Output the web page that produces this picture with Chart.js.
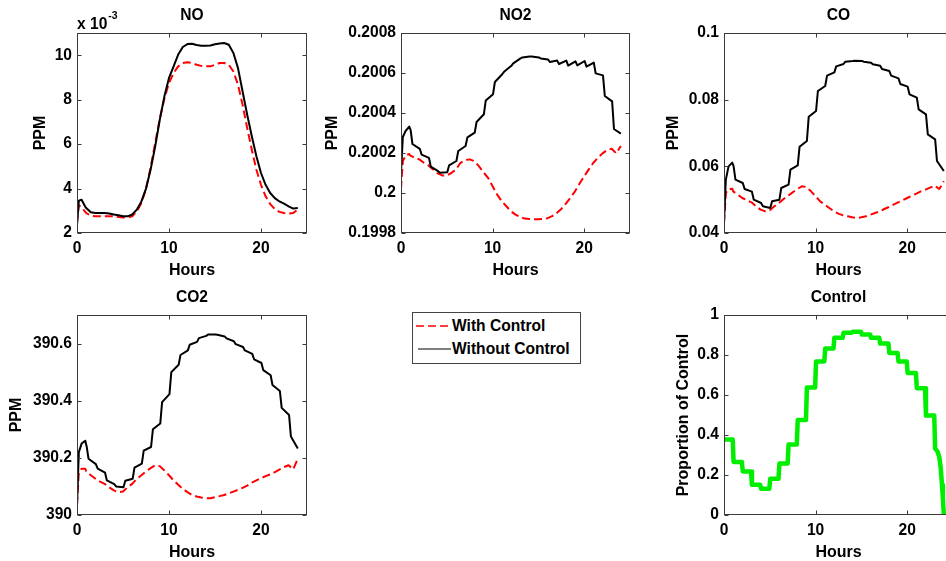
<!DOCTYPE html>
<html><head><meta charset="utf-8">
<script src="https://cdn.jsdelivr.net/npm/chart.js@4.4.0/dist/chart.umd.min.js"></script>
<style>
html,body{margin:0;padding:0;background:#fff;}
#fig{position:relative;width:946px;height:561px;overflow:hidden;background:#fff;}
#fig canvas{position:absolute;}
#legend{position:absolute;left:412px;top:312px;width:167px;height:50px;border:1px solid #444;background:#fff;
  font:bold 15.6px "Liberation Sans",Arial,sans-serif;color:#000;}
#legend .row{position:absolute;left:0;height:18px;line-height:18px;white-space:nowrap;}
#legend svg{position:absolute;left:2px;top:0;}
#legend span{position:absolute;left:39px;top:0;}
</style></head>
<body>
<div id="fig">
  <canvas id="cNO"></canvas>
  <canvas id="cNO2"></canvas>
  <canvas id="cCO"></canvas>
  <canvas id="cCO2"></canvas>
  <canvas id="cCtrl"></canvas>
  <div id="legend">
    <div class="row" style="top:4px"><svg width="36" height="18"><line x1="1" y1="9" x2="36" y2="9" stroke="#ff0000" stroke-width="1.3" stroke-dasharray="8,4"/></svg><span>With Control</span></div>
    <div class="row" style="top:27px"><svg width="36" height="18"><line x1="3" y1="9" x2="36" y2="9" stroke="#000" stroke-width="1.2"/></svg><span>Without Control</span></div>
  </div>
</div>
<script>
// ---------- data ----------
// sampling times for the smooth curves
const hours = [0,0.2,0.5,0.9,1,1.5,2,2.5,3,3.5,4,4.5,5,5.5,6,6.5,7,7.5,8,8.5,9,9.5,10,10.5,11,11.5,12,12.5,13,13.5,14,14.5,15,15.5,16,16.5,17,17.5,18,18.5,19,19.5,20,20.5,21,21.5,22,22.5,23,23.5,24];
// sampling times for the stepped "without control" curves (just before / after each hourly jump)
const stepHours = [0,0.2,0.5,0.9,1.05,1.25,2.05,2.25,3.05,3.25,4.05,4.25,5.05,5.25,6.05,6.25,7.05,7.25,8.05,8.25,9.05,9.25,10.05,10.25,11.05,11.25,12.05,12.25,13.05,13.25,14.05,14.25,15.05,15.25,16.05,16.25,17.05,17.25,18.05,18.25,19.05,19.25,20.05,20.25,21.05,21.25,22.05,22.25,23.05,23.25,24];

// NO, in units of 1e-3 ppm (on `hours`)
const noWithout = [2.37,3.45,3.5,3.18,3.12,2.93,2.9,2.9,2.9,2.88,2.83,2.8,2.75,2.75,2.83,3.05,3.42,4.0,4.85,5.9,7.1,8.15,8.98,9.5,10.03,10.37,10.5,10.52,10.46,10.43,10.43,10.44,10.49,10.53,10.55,10.47,10.1,9.42,8.37,7.32,6.35,5.45,4.7,4.17,3.8,3.57,3.42,3.32,3.2,3.1,3.12];
const noWith = [2.45,3.25,3.15,2.95,2.9,2.78,2.75,2.75,2.75,2.75,2.75,2.72,2.7,2.7,2.75,2.97,3.35,3.98,4.95,6.05,7.15,8.05,8.75,9.2,9.5,9.65,9.68,9.65,9.57,9.52,9.5,9.5,9.57,9.65,9.65,9.57,9.27,8.67,7.77,6.72,5.75,4.85,4.17,3.65,3.3,3.08,2.95,2.9,2.87,2.9,3.05];

// NO2 (without: on `stepHours`, with: on `hours`)
const no2Without = [0.2001,0.20028,0.20031,0.200332,0.200315,0.200245,0.200221,0.200192,0.200176,0.200132,0.200109,0.200101,0.200104,0.200138,0.20016,0.20021,0.200235,0.200278,0.200302,0.200355,0.200394,0.200462,0.200494,0.200555,0.200594,0.200606,0.200636,0.200648,0.200673,0.200678,0.200683,0.200683,0.200678,0.200673,0.200668,0.200655,0.200662,0.200645,0.200662,0.200637,0.200658,0.200638,0.20066,0.200632,0.200652,0.200598,0.200588,0.200485,0.200458,0.20032,0.200297];
const no2With = [0.20002,0.20016,0.200188,0.200195,0.200188,0.200176,0.200168,0.200151,0.200138,0.200118,0.200098,0.200088,0.200088,0.2001,0.200118,0.200151,0.200165,0.200168,0.20016,0.200134,0.200104,0.200076,0.200034,0.199992,0.199959,0.199934,0.199909,0.199892,0.19988,0.199872,0.19987,0.199869,0.199869,0.19987,0.199874,0.199884,0.1999,0.19992,0.199947,0.199976,0.200009,0.200047,0.200084,0.200118,0.200151,0.200176,0.200198,0.200215,0.200221,0.200198,0.200235];

// CO (without: on `stepHours`, with: on `hours`)
const coWithout = [0.043,0.056,0.06,0.0611,0.06,0.056,0.055,0.0532,0.0524,0.05,0.049,0.048,0.0475,0.0495,0.05,0.0535,0.0545,0.059,0.0603,0.0659,0.0676,0.0749,0.0766,0.0826,0.0841,0.0872,0.0882,0.09,0.0907,0.0914,0.0916,0.0917,0.0916,0.0914,0.0911,0.0906,0.0902,0.0892,0.0886,0.0872,0.0864,0.0847,0.0839,0.0816,0.0806,0.0771,0.0756,0.0696,0.0681,0.0616,0.0586];
const coWith = [0.043,0.052,0.0532,0.0533,0.0525,0.0515,0.0505,0.0498,0.0492,0.048,0.047,0.0465,0.0468,0.048,0.049,0.0502,0.0512,0.0522,0.0532,0.054,0.0538,0.0525,0.051,0.0495,0.0485,0.0475,0.0465,0.0458,0.0453,0.045,0.0447,0.0445,0.0447,0.045,0.0455,0.046,0.0465,0.0472,0.0478,0.0485,0.0492,0.0498,0.0505,0.0512,0.0518,0.0525,0.053,0.0536,0.0542,0.0532,0.0555];

// CO2 (without: on `stepHours`, with: on `hours`)
const co2Without = [390.033,390.22,390.25,390.26,390.24,390.197,390.178,390.162,390.148,390.121,390.108,390.1,390.097,390.12,390.127,390.166,390.18,390.225,390.238,390.3,390.32,390.395,390.423,390.5,390.526,390.56,390.576,390.596,390.606,390.619,390.627,390.632,390.632,390.631,390.625,390.618,390.608,390.598,390.588,390.576,390.564,390.545,390.532,390.507,390.489,390.455,390.434,390.375,390.35,390.275,390.233];
const co2With = [390.035,390.15,390.162,390.162,390.153,390.139,390.127,390.117,390.109,390.097,390.086,390.08,390.082,390.097,390.109,390.127,390.139,390.153,390.164,390.174,390.171,390.156,390.139,390.121,390.106,390.092,390.08,390.07,390.065,390.061,390.059,390.059,390.062,390.066,390.07,390.076,390.082,390.088,390.095,390.103,390.113,390.121,390.129,390.136,390.142,390.15,390.159,390.168,390.174,390.16,390.197];

// Control proportion
const ctrlHours = [0,0.95,1.05,1.95,2.05,2.95,3.05,3.95,4.05,4.95,5.05,5.95,6.05,6.95,7.05,7.95,8.05,8.95,9.05,9.95,10.05,10.95,11.05,11.95,12.05,12.95,13.05,13.95,14.05,14.95,15.05,15.95,16.05,16.95,17.05,17.95,18.05,18.95,19.05,19.95,20.05,20.95,21.05,21.95,22.05,22.95,23.05,23.3,23.5,23.65,23.8,23.9,24];
const ctrlValues = [0.377,0.377,0.265,0.265,0.218,0.218,0.151,0.151,0.131,0.131,0.181,0.181,0.257,0.257,0.352,0.352,0.475,0.475,0.638,0.638,0.768,0.768,0.832,0.832,0.886,0.886,0.911,0.911,0.916,0.916,0.903,0.903,0.886,0.886,0.857,0.857,0.81,0.81,0.768,0.768,0.71,0.71,0.634,0.634,0.497,0.497,0.332,0.318,0.29,0.24,0.15,0.08,0];

// ticks
const xTicks = [0,10,20];
const xTickLabels = ['0','10','20'];
const noTicks = [2,4,6,8,10];
const noTickLabels = ['2','4','6','8','10'];
const no2Ticks = [0.1998,0.2,0.2002,0.2004,0.2006,0.2008];
const no2TickLabels = ['0.1998','0.2','0.2002','0.2004','0.2006','0.2008'];
const coTicks = [0.04,0.06,0.08,0.1];
const coTickLabels = ['0.04','0.06','0.08','0.1'];
const co2Ticks = [390,390.2,390.4,390.6];
const co2TickLabels = ['390','390.2','390.4','390.6'];
const ctrlTicks = [0,0.2,0.4,0.6,0.8,1];
const ctrlTickLabels = ['0','0.2','0.4','0.6','0.8','1'];

// ---------- drawing ----------
const FAMILY = '"Liberation Sans", Arial, sans-serif';
const FS = 15.6;
const FT = 16;
Chart.defaults.font.family = FAMILY;
Chart.defaults.color = '#000';

const boxPlugin = {
  id: 'mbox',
  afterDraw(chart) {
    const {ctx, chartArea: a, scales: {x, y}} = chart;
    ctx.save();
    ctx.strokeStyle = '#3a3a3a';
    ctx.lineWidth = 1;
    const L = Math.round(a.left) + 0.5, R = Math.round(a.right) - 0.5;
    const T = Math.round(a.top) + 0.5, B = Math.round(a.bottom) - 0.5;
    ctx.strokeRect(L, T, R - L, B - T);
    ctx.beginPath();
    x.ticks.forEach(t => {
      const px = Math.round(x.getPixelForValue(t.value)) + 0.5;
      ctx.moveTo(px, B); ctx.lineTo(px, B - 4);
      ctx.moveTo(px, T); ctx.lineTo(px, T + 4);
    });
    y.ticks.forEach(t => {
      const py = Math.round(y.getPixelForValue(t.value)) + 0.5;
      ctx.moveTo(L, py); ctx.lineTo(L + 4, py);
      ctx.moveTo(R, py); ctx.lineTo(R - 4, py);
    });
    ctx.stroke();
    ctx.restore();
  }
};

const expPlugin = {
  id: 'mexp',
  afterDraw(chart) {
    const {ctx, chartArea: a} = chart;
    ctx.save();
    ctx.fillStyle = '#000';
    ctx.textAlign = 'left';
    ctx.textBaseline = 'alphabetic';
    ctx.font = 'bold ' + FS + 'px ' + FAMILY;
    ctx.fillText('x 10', a.left, 28.5);
    const w = ctx.measureText('x 10').width;
    ctx.font = 'bold 10.5px ' + FAMILY;
    ctx.fillText('-3', a.left + w + 1, 19);
    ctx.restore();
  }
};

function pts(hrs, vals) { return hrs.map((h, i) => ({x: h, y: vals[i]})); }

const YW = 80, TH = 33, PADR = 10, AH = 200, XH = 55;

function makeChart(id, o) {
  const cv = document.getElementById(id);
  const W = YW + o.areaW + PADR, H = TH + AH + XH;
  cv.width = W; cv.height = H;
  cv.style.left = (o.areaLeft - YW) + 'px';
  cv.style.top = (o.areaTop - TH) + 'px';
  cv.style.width = W + 'px'; cv.style.height = H + 'px';
  const font = {family: FAMILY, size: FS, weight: 'bold', lineHeight: 1};
  const axFont = {family: FAMILY, size: FT, weight: 'bold', lineHeight: 1};
  const tickFont = {family: FAMILY, size: FS, weight: 'bold', lineHeight: 1.2};
  return new Chart(cv, {
    type: 'line',
    data: {datasets: o.datasets},
    plugins: o.plugins,
    options: {
      responsive: false, animation: false, devicePixelRatio: 1,
      events: [],
      layout: {padding: {left: 0, right: PADR, top: 0, bottom: 0}},
      elements: {point: {radius: 0}, line: {tension: 0, borderJoinStyle: 'round'}},
      plugins: {
        legend: {display: false},
        tooltip: {enabled: false},
        title: {display: true, text: o.title, fullSize: false, color: '#000', font: font,
                padding: {top: TH - 17.5 - FS / 2, bottom: 17.5 - FS / 2}}
      },
      scales: {
        x: {
          type: 'linear', min: 0, max: 25,
          afterBuildTicks: s => { s.ticks = xTicks.map(v => ({value: v})); },
          afterFit: s => { s.height = XH; },
          grid: {display: false, drawTicks: false},
          border: {display: false},
          ticks: {padding: 6, font: tickFont, color: '#000', autoSkip: false, maxRotation: 0, minRotation: 0,
                  callback: (v, i) => xTickLabels[i]},
          title: {display: true, text: 'Hours', color: '#000', font: axFont,
                  padding: {top: 0, bottom: XH - 37.5 - FT / 2}}
        },
        y: {
          type: 'linear', min: o.yMin, max: o.yMax,
          afterBuildTicks: s => { s.ticks = o.yTicks.map(v => ({value: v})); },
          afterFit: s => { s.width = YW; },
          grid: {display: false, drawTicks: false},
          border: {display: false},
          ticks: {padding: 5, font: tickFont, color: '#000', autoSkip: false,
                  callback: (v, i) => o.yLabels[i]},
          title: {display: true, text: o.yTitle, color: '#000', font: axFont,
                  padding: {top: YW - o.yTitleDist - FT / 2, bottom: 0}}
        }
      }
    }
  });
}

function pairSets(withHrs, withVals, withoutHrs, withoutVals) {
  return [
    {label: 'Without Control', data: pts(withoutHrs, withoutVals), borderColor: '#000000', borderWidth: 2, fill: false},
    {label: 'With Control', data: pts(withHrs, withVals), borderColor: '#ff0000', borderWidth: 2, borderDash: [8, 4], fill: false}
  ];
}

makeChart('cNO', {areaLeft: 77, areaTop: 33, areaW: 230, title: 'NO', yTitle: 'PPM', yTitleDist: 36,
  yMin: 2, yMax: 11, yTicks: noTicks, yLabels: noTickLabels,
  datasets: pairSets(hours, noWith, hours, noWithout), plugins: [boxPlugin, expPlugin]});

makeChart('cNO2', {areaLeft: 401, areaTop: 33, areaW: 229, title: 'NO2', yTitle: 'PPM', yTitleDist: 68,
  yMin: 0.1998, yMax: 0.2008, yTicks: no2Ticks, yLabels: no2TickLabels,
  datasets: pairSets(hours, no2With, stepHours, no2Without), plugins: [boxPlugin]});

makeChart('cCO', {areaLeft: 724, areaTop: 33, areaW: 229, title: 'CO', yTitle: 'PPM', yTitleDist: 50.5,
  yMin: 0.04, yMax: 0.1, yTicks: coTicks, yLabels: coTickLabels,
  datasets: pairSets(hours, coWith, stepHours, coWithout), plugins: [boxPlugin]});

makeChart('cCO2', {areaLeft: 77, areaTop: 315, areaW: 230, title: 'CO2', yTitle: 'PPM', yTitleDist: 60,
  yMin: 390, yMax: 390.7, yTicks: co2Ticks, yLabels: co2TickLabels,
  datasets: pairSets(hours, co2With, stepHours, co2Without), plugins: [boxPlugin]});

makeChart('cCtrl', {areaLeft: 724, areaTop: 315, areaW: 229, title: 'Control', yTitle: 'Proportion of Control', yTitleDist: 40.5,
  yMin: 0, yMax: 1, yTicks: ctrlTicks, yLabels: ctrlTickLabels,
  datasets: [{label: 'Control', data: pts(ctrlHours, ctrlValues), borderColor: '#00ee00', borderWidth: 4.5,
              borderJoinStyle: 'round', borderCapStyle: 'round', fill: false}],
  plugins: [boxPlugin]});
</script>
</body></html>
